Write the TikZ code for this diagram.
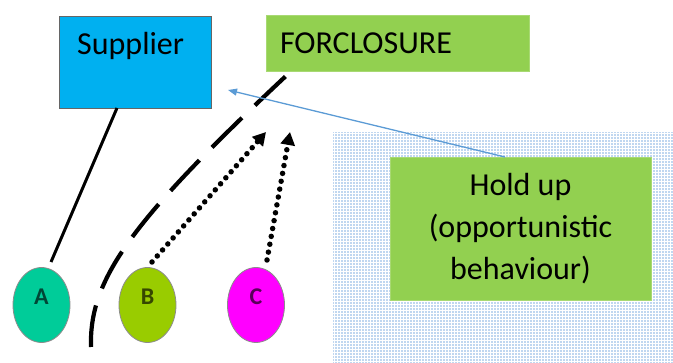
\documentclass[tikz,border=0pt]{standalone}
\usepackage{fontspec}
\setmainfont{Carlito}
\usetikzlibrary{arrows.meta,patterns,shapes.geometric}
\definecolor{supblue}{HTML}{00B0F0}
\definecolor{lgreen}{HTML}{92D050}
\definecolor{linkblue}{HTML}{5B9BD5}
\definecolor{dotblue}{HTML}{7FAEE0}
\definecolor{ca}{HTML}{00CC99}
\definecolor{cb}{HTML}{99CC00}
\definecolor{cc}{HTML}{FF00FF}
\pgfdeclarepatternformonly{bigdots}{\pgfqpoint{-1.5pt}{-1.5pt}}{\pgfqpoint{1.5pt}{1.5pt}}{\pgfqpoint{3pt}{3pt}}{%
  \pgfpathcircle{\pgfqpoint{0pt}{0pt}}{0.85pt}\pgfusepath{fill}}
\tikzset{
  bigtxt/.style={font=\fontsize{32}{42}\selectfont},
  greenbox/.style={fill=lgreen, draw=lgreen!80!white, line width=0.6pt},
  party/.style={ellipse, draw=black!45, line width=0.8pt, minimum width=57pt, minimum height=75pt, inner sep=0pt},
  partytxt/.style={font=\fontsize{24}{24}\bfseries\selectfont},
  dotarrow/.style={line width=5.5pt, line cap=round, dash pattern=on 0pt off 8pt, -{Triangle[length=13pt,width=14pt,line cap=butt]}},
}
\begin{document}
\begin{tikzpicture}[x=1pt,y=-1pt]
\useasboundingbox (0,0) rectangle (673,363);
% dotted background
\fill[pattern=bigdots, pattern color=dotblue] (333,133) rectangle (673,363);
% boxes
\node[fill=supblue, draw=black!60, line width=0.6pt, minimum width=152pt, minimum height=92pt, inner sep=0pt] (sup) at (135,62) {};
\node[bigtxt, anchor=west, inner sep=0pt] (suptxt) at (77,46) {Supplier};
\node[greenbox, minimum width=263pt, minimum height=56pt, text width=235pt, align=left, inner xsep=14pt, inner ysep=0pt, bigtxt] (fore) at (397.5,43) {FORCLOSURE};
\node[greenbox, minimum width=261pt, minimum height=143pt, align=center, inner sep=0pt, bigtxt] (hold) at (520.5,229) {Hold up\\(opportunistic\\behaviour)};
% parties
\node[party, fill=ca] (A) at (41.5,305) {};
\node[party, fill=cb] (B) at (147.5,305) {};
\node[party, fill=cc] (C) at (256,305) {};
\node[partytxt, text=ca!35!black] (At) at (41.5,297) {A};
\node[partytxt, text=cb!35!black] (Bt) at (147.5,297) {B};
\node[partytxt, text=cc!35!black] (Ct) at (256,297) {C};
% connectors
\coordinate (aTop) at (51,262);
\coordinate (supBot) at (117,108);
\draw[line width=3pt] (aTop) -- (supBot);
\coordinate (dStart) at (91,347);
\coordinate (dEnd) at (287,75);
\draw[line width=4.2pt, dash pattern=on 42pt off 18pt] (dStart) .. controls (89,280) and (130,222) .. (dEnd);
\coordinate (bTop) at (152,262);
\coordinate (bTip) at (266,132);
\draw[dotarrow] (bTop) -- (bTip);
\coordinate (cTop) at (267,260);
\coordinate (cTip) at (290,132);
\draw[dotarrow] (cTop) -- (cTip);
\coordinate (hTop) at (505,157);
\coordinate (sTip) at (228,90);
\draw[linkblue, line width=1.3pt, -{Triangle[length=9pt,width=7pt]}] (hTop) -- (sTip);
\end{tikzpicture}
\end{document}
